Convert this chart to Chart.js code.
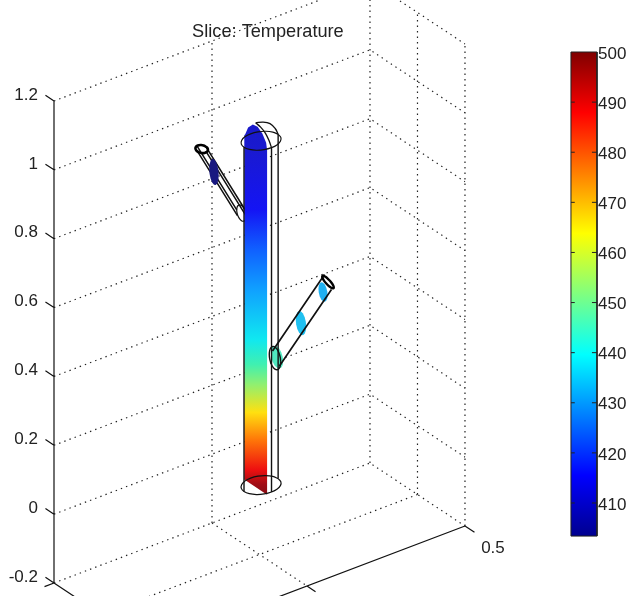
<!DOCTYPE html>
<html>
<head>
<meta charset="utf-8">
<title>Slice: Temperature</title>
<script src="https://cdn.jsdelivr.net/npm/chart.js@4"></script>
<style>
  html, body { margin: 0; background: #fff; }
  canvas { display: block; }
</style>
</head>
<body>
<canvas id="chart" width="628" height="596"></canvas>
<script>
// ====== DATA ======
const titleText = 'Slice: Temperature';
const zTicks = [-0.2, 0, 0.2, 0.4, 0.6, 0.8, 1, 1.2];
const tempTicks = [410, 420, 430, 440, 450, 460, 470, 480, 490, 500];
const xTickLabel = '0.5';

// colorbar: jet colormap between the lowest temperature and 500
const tempMin = 403.4;
const tempMax = 500;
const jetTemps = [403.4, 415.5, 439.6, 463.8, 487.9, 500];
const jetColors = ['#00008f', '#0000ff', '#00ffff', '#ffff00', '#ff0000', '#800000'];

// colours read along the main tube slice, bottom to top
const sliceZ = [-0.016, 0.008, 0.051, 0.138, 0.217, 0.298, 0.356, 0.429, 0.574, 0.69, 0.806, 0.98, 1.06];
const sliceColors = ['#8c0c14', '#a00c14', '#ee1010', '#ff7808', '#ffe010', '#90f070', '#40f0b0',
  '#10e8f0', '#10a0ff', '#1060ff', '#1414f4', '#1a1ad0', '#1818c8'];

// slice outline on the main tube, as Y / Z pairs (X is fixed)
const sliceX = -0.012;
const sliceY = [-0.12, -0.11, -0.08, -0.03, 0.02, 0.07, 0.11, 0.12, 0.12];
const sliceTopZ = [1, 1.005, 1.03, 1.048, 1.05, 1.04, 1.02, 1, 0];

// main tube
const tubeX = 0.005;
const tubeRadiusX = 0.054;
const tubeRadiusY = 0.11;
const domeScale = [1, 0.92, 0.71, 0.38, 0];
const domeLift = [0, 0.02, 0.04, 0.052, 0.058];
const domeShift = [0, -0.005, -0.01, -0.014, -0.017];

// side branches: start and end of the centre line [X, Z]
const upperStart = [-0.057, 0.8116];
const upperEnd = [-0.1829, 1.0414];
const upperPerp = [0.0128, 0.003];
const upperRadiusY = 0.05;
const lowerStart = [0.0522, 0.351];
const lowerEnd = [0.2168, 0.5158];
const lowerPerp = [0.011, -0.0256];
const lowerRadiusY = 0.07;
const lowerCapPerp = [0.008, -0.018];
const lowerCapRadiusY = 0.055;

// slices through the branches: X, Z, Y radius, Z radius, colour
const patchX = [-0.144, 0.201, 0.1313, 0.0554];
const patchZ = [0.961, 0.4923, 0.4264, 0.354];
const patchRadiusY = [0.05, 0.048, 0.055, 0.065];
const patchRadiusZ = [0.037, 0.027, 0.034, 0.031];
const patchColors = ['#181880', '#20b0f0', '#20c0f0', '#50e8c0'];

// unit circle used for every ring
const ringCos = [1, 0.924, 0.707, 0.383, 0, -0.383, -0.707, -0.924, -1, -0.924, -0.707, -0.383, 0, 0.383, 0.707, 0.924, 1];
const ringSin = [0, 0.383, 0.707, 0.924, 1, 0.924, 0.707, 0.383, 0, -0.383, -0.707, -0.924, -1, -0.924, -0.707, -0.383, 0];

// ====== VIEW ======
const pxPerZ = 344.3;
const barLeft = 1.636;
const barRight = 1.7184;

// 3D box position to the 2D scales of the chart
function project(x, y, z) {
    const a = x + 0.5;
    const b = y + 0.5;
    return { x: a + b * 0.3006, y: z + a * 0.3485 - b * 0.183 };
}

function ring(c, u, v) {
    return ringCos.map((co, i) => project(
        c[0] + u[0] * co + v[0] * ringSin[i],
        c[1] + u[1] * co + v[1] * ringSin[i],
        c[2] + u[2] * co + v[2] * ringSin[i]
    ));
}

function segments(list) {
    const out = [];
    list.forEach(seg => {
        seg.forEach(p => out.push(project(p[0], p[1], p[2])));
        out.push({ x: null, y: null });
    });
    return out;
}

// ====== DATASETS ======
const datasets = [];

function addLine(data, color, width, extra) {
    datasets.push(Object.assign({
        data: data,
        showLine: true,
        borderColor: color,
        borderWidth: width,
        pointRadius: 0,
        clip: false
    }, extra || {}));
}

function addFill(data, fillStyle, extra) {
    datasets.push(Object.assign({
        data: data,
        showLine: false,
        pointRadius: 0,
        clip: false,
        fillStyle: fillStyle
    }, extra || {}));
}

// dotted box grid
const dots = { borderDash: [1.4, 4.1] };
const dotColor = '#222';
const gridSegs = [];
zTicks.forEach(z => {
    gridSegs.push([[-0.5, -0.5, z], [0.5, -0.5, z], [0.5, 0.5, z]]);
});
gridSegs.push([[0, -0.5, -0.2], [0, -0.5, 1.2]]);
gridSegs.push([[0.5, -0.5, -0.2], [0.5, -0.5, 1.2]]);
gridSegs.push([[0.5, 0, -0.2], [0.5, 0, 1.2]]);
gridSegs.push([[0.5, 0.5, -0.2], [0.5, 0.5, 1.2]]);
gridSegs.push([[0, -0.5, -0.2], [0, 0.5, -0.2]]);
gridSegs.push([[0.5, 0, -0.2], [-0.5, 0, -0.2]]);
addLine(segments(gridSegs), dotColor, 1.2, dots);

// solid axes and tick marks
const axisSegs = [
    [[-0.5, -0.5, -0.2], [-0.5, -0.5, 1.2]],
    [[-0.5, -0.5, -0.2], [-0.5, 0.5, -0.2], [0.5, 0.5, -0.2]],
    [[0, 0.5, -0.2], [0, 0.59, -0.2]],
    [[0.5, 0.5, -0.2], [0.5, 0.6, -0.2]],
    [[-0.5, -0.5, -0.2], [-0.53, -0.5, -0.2]]
];
zTicks.forEach(z => {
    axisSegs.push([[-0.5, -0.5, z], [-0.5, -0.59, z]]);
});
addLine(segments(axisSegs), '#111', 1.2);

// upper branch, behind the main tube slice
const upperSegs = [];
[[upperPerp[0], 0, upperPerp[1]], [-upperPerp[0], 0, -upperPerp[1]],
 [0, upperRadiusY, 0], [0, -upperRadiusY, 0]].forEach(o => {
    upperSegs.push([
        [upperStart[0] + o[0], o[1], upperStart[1] + o[2]],
        [upperEnd[0] + o[0], o[1], upperEnd[1] + o[2]]
    ]);
});
addLine(segments(upperSegs), '#111', 1.5);
addLine(ring([upperStart[0], 0, upperStart[1]], [0, upperRadiusY, 0], [0, 0, 0.022]), '#111', 1.2, { tension: 0.4 });
addLine(ring([upperEnd[0], 0, upperEnd[1]], [upperPerp[0], 0, upperPerp[1]], [0, upperRadiusY, 0]), '#000', 2.6, { tension: 0.4 });

// branch slices
patchX.forEach((x, i) => {
    addFill(ring([x, 0, patchZ[i]], [0, patchRadiusY[i], 0], [0, 0, patchRadiusZ[i]]), patchColors[i]);
});

// lower branch
const lowerSegs = [];
[[lowerPerp[0], 0, lowerPerp[1]], [-lowerPerp[0], 0, -lowerPerp[1]]].forEach(o => {
    lowerSegs.push([
        [lowerStart[0] + o[0], o[1], lowerStart[1] + o[2]],
        [lowerEnd[0] + o[0], o[1], lowerEnd[1] + o[2]]
    ]);
});
addLine(segments(lowerSegs), '#111', 1.7);
addLine(ring([0.049, 0, 0.3535], [0, 0.06, 0], [0, 0, 0.032]), '#111', 1.4, { tension: 0.4 });
addLine(ring([lowerEnd[0], 0, lowerEnd[1]], [lowerCapPerp[0], 0, lowerCapPerp[1]], [0, lowerCapRadiusY, 0]), '#000', 2.4, { tension: 0.4 });

// main tube slice
const sliceOutline = sliceY.map((y, i) => project(sliceX, y, sliceTopZ[i]));
sliceOutline.push(project(sliceX, sliceY[0], 0));
addFill(sliceOutline, {
    stops: sliceZ.map(z => project(sliceX, 0, z).y),
    colors: sliceColors
});

// main tube outline on top of the slice
const tubeSegs = [
    [[tubeX + tubeRadiusX, 0, 0], [tubeX + tubeRadiusX, 0, 1]],
    [[tubeX - tubeRadiusX, 0, 0], [tubeX - tubeRadiusX, 0, 1]],
    [[tubeX, tubeRadiusY, 0], [tubeX, tubeRadiusY, 1]]
];
addLine(segments(tubeSegs), '#111', 1.4);
addLine(ring([tubeX, 0, 0], [tubeRadiusX, 0, 0], [0, tubeRadiusY, 0]), '#111', 1.2, { tension: 0.4 });
addLine(ring([tubeX, 0, 1], [tubeRadiusX, 0, 0], [0, tubeRadiusY, 0]), '#111', 1.2, { tension: 0.4 });
addLine(domeScale.map((s, i) => project(tubeX + tubeRadiusX * s + domeShift[i], 0, 1 + domeLift[i])), '#111', 1.3, { tension: 0.4 });
addLine(domeScale.map((s, i) => project(tubeX + domeShift[i], tubeRadiusY * s, 1 + domeLift[i])), '#111', 1.3, { tension: 0.4 });

// colorbar, drawn on the temperature axis
addFill([
    { x: barLeft, y: tempMin }, { x: barLeft, y: tempMax },
    { x: barRight, y: tempMax }, { x: barRight, y: tempMin }
], { stops: jetTemps, colors: jetColors }, { yAxisID: 'yT' });
addLine([
    { x: barLeft, y: tempMin }, { x: barLeft, y: tempMax },
    { x: barRight, y: tempMax }, { x: barRight, y: tempMin },
    { x: barLeft, y: tempMin }
], '#222', 1, { yAxisID: 'yT' });
const barTicks = [];
tempTicks.slice(0, -1).forEach(t => {
    barTicks.push({ x: barLeft, y: t }, { x: barLeft + 0.012, y: t }, { x: null, y: null });
    barTicks.push({ x: barRight - 0.016, y: t }, { x: barRight, y: t }, { x: null, y: null });
});
addLine(barTicks, '#222', 1, { yAxisID: 'yT' });

// first dataset at the back
datasets.forEach((d, i) => { d.order = -i; });

// ====== PLUGINS ======
const polygonFill = {
    id: 'polygonFill',
    beforeDatasetDraw(chart, args) {
        const ds = chart.data.datasets[args.index];
        if (!ds.fillStyle) return;
        const ctx = chart.ctx;
        const pts = args.meta.data;
        let style = ds.fillStyle;
        if (typeof style !== 'string') {
            const scale = args.meta.yScale;
            const first = scale.getPixelForValue(style.stops[0]);
            const last = scale.getPixelForValue(style.stops[style.stops.length - 1]);
            const grad = ctx.createLinearGradient(0, first, 0, last);
            style.stops.forEach((v, i) => {
                grad.addColorStop((scale.getPixelForValue(v) - first) / (last - first), style.colors[i]);
            });
            style = grad;
        }
        ctx.save();
        ctx.beginPath();
        pts.forEach((p, i) => {
            if (i === 0) ctx.moveTo(p.x, p.y);
            else ctx.lineTo(p.x, p.y);
        });
        ctx.closePath();
        ctx.fillStyle = style;
        ctx.fill();
        ctx.restore();
    }
};

const freeLabels = {
    id: 'freeLabels',
    afterDraw(chart) {
        const ctx = chart.ctx;
        const sx = chart.scales.x;
        const sy = chart.scales.y;
        ctx.save();
        ctx.fillStyle = '#222';
        ctx.textBaseline = 'middle';
        ctx.textAlign = 'center';
        ctx.font = '18.2px "Liberation Sans"';
        ctx.fillText(titleText, sx.getPixelForValue(0.677), 32);
        ctx.font = '17px "Liberation Sans"';
        const tip = project(0.5, 0.5, -0.2);
        ctx.fillText(xTickLabel, sx.getPixelForValue(tip.x) + 28, sy.getPixelForValue(tip.y) + 22);
        ctx.restore();
    }
};

// no room kept for the tick labels at the ends of the axes
function fixAxis(scale, width) {
    scale.width = width;
    scale.paddingTop = 0;
    scale.paddingBottom = 0;
}

// ====== CHART ======
new Chart(document.getElementById('chart'), {
    type: 'scatter',
    data: { datasets: datasets },
    plugins: [polygonFill, freeLabels],
    options: {
        responsive: false,
        animation: false,
        layout: { padding: 0 },
        plugins: {
            legend: { display: false },
            tooltip: { enabled: false }
        },
        scales: {
            x: { type: 'linear', display: false, min: 0, max: 1.7184 },
            y: {
                type: 'linear',
                position: 'left',
                min: 1.4933 - 596 / pxPerZ,
                max: 1.4933,
                afterBuildTicks(scale) { scale.ticks = zTicks.map(v => ({ value: v })); },
                afterFit(scale) { fixAxis(scale, 54); },
                grid: { display: false, drawTicks: false },
                border: { display: false },
                ticks: {
                    autoSkip: false,
                    padding: 16,
                    labelOffset: -6,
                    color: '#222',
                    font: { family: 'Liberation Sans', size: 17 },
                    callback: v => String(v)
                }
            },
            yT: {
                type: 'linear',
                position: 'right',
                min: 500 - 544 / 5.011,
                max: 500 + 52 / 5.011,
                afterBuildTicks(scale) { scale.ticks = tempTicks.map(v => ({ value: v })); },
                afterFit(scale) { fixAxis(scale, 31); },
                grid: { display: false, drawTicks: false },
                border: { display: false },
                ticks: {
                    autoSkip: false,
                    padding: 1,
                    labelOffset: 2,
                    color: '#222',
                    font: { family: 'Liberation Sans', size: 17 },
                    callback: v => String(v)
                }
            }
        }
    }
});
</script>
</body>
</html>
